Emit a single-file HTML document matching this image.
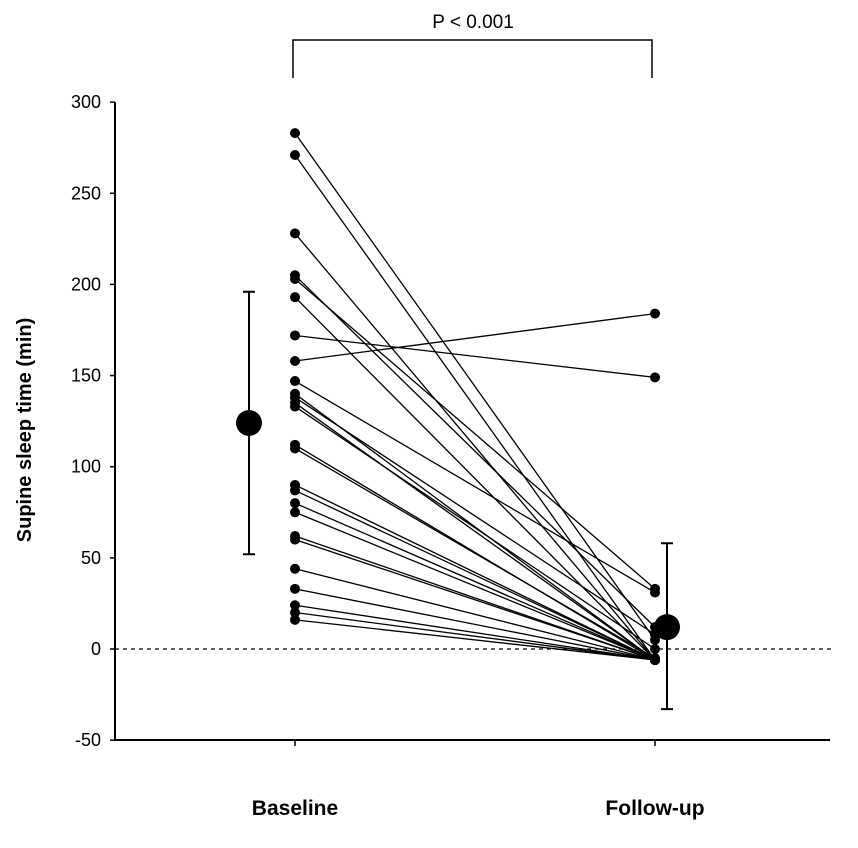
<!DOCTYPE html>
<html><head><meta charset="utf-8"><style>
body{margin:0;background:#fff}
svg{display:block;font-family:"Liberation Sans",Arial,sans-serif}
</style></head><body>
<svg id="chart" width="858" height="848" viewBox="0 0 858 848">
<g id="axes"></g><g id="marks"></g>
</svg>
<script>
const groups = ["Baseline", "Follow-up"];
const baselineValues = [283, 271, 228, 205, 203, 193, 172, 158, 147, 140, 138, 135, 133, 112, 110, 90, 87, 80, 75, 62, 60, 44, 33, 24, 20, 16];
const followupValues = [5, -6, -6, 12, 33, -6, 149, 184, 31, -6, 8, -6, 0, -6, -5, -6, -6, -6, -6, -6, -6, -6, -6, -6, -6, -6];
const meanValues = [124, 12];
const errLow = [52, -33];
const errHigh = [196, 58];
const yTicks = [-50, 0, 50, 100, 150, 200, 250, 300];

const NS = "http://www.w3.org/2000/svg";
const y = v => 649 - v * 1.8229;
const xPos = i => i === 0 ? 295 : 655;
const xMean = i => i === 0 ? 249 : 667;
function mk(tag, attrs, parent, text){
  const e = document.createElementNS(NS, tag);
  for (const k in attrs) e.setAttribute(k, attrs[k]);
  if (text !== undefined) e.textContent = text;
  parent.appendChild(e); return e;
}
const axes = document.getElementById("axes"), marks = document.getElementById("marks");

let e = mk("line", {x1:115, y1:102, x2:115, y2:741, stroke:"#000", "stroke-width":2}, axes);
 
e = mk("line", {x1:114, y1:740, x2:830, y2:740, stroke:"#000", "stroke-width":2}, axes);
 
e = mk("line", {x1:115, y1:y(0), x2:835, y2:y(0), stroke:"#000", "stroke-width":1.3, "stroke-dasharray":"4,4"}, axes);
 
yTicks.forEach(t => {
  const l = mk("line", {x1:110, y1:y(t), x2:115, y2:y(t), stroke:"#000", "stroke-width":1.5}, axes);
   
  const tx = mk("text", {x:101, y:y(t)+6, "text-anchor":"end", "font-size":18}, axes, String(t));
   
});
groups.forEach((g, i) => {
  const l = mk("line", {x1:xPos(i), y1:740, x2:xPos(i), y2:746, stroke:"#000", "stroke-width":1.5}, axes);
   
  const tx = mk("text", {x:xPos(i), y:815, "text-anchor":"middle", "font-size":21, "font-weight":"bold"}, axes, g);
   
});
e = mk("text", {transform:"translate(31,430) rotate(-90)", "text-anchor":"middle", "font-size":20, "font-weight":"bold"}, axes, "Supine sleep time (min)");
 
e = mk("path", {d:"M293 78 V40 H652 V78", fill:"none", stroke:"#000", "stroke-width":1.5}, axes);
 
e = mk("text", {x:473, y:28, "text-anchor":"middle", "font-size":19}, axes, "P < 0.001");
 

baselineValues.forEach((b, k) => {
  const f = followupValues[k];
  const l = mk("line", {x1:xPos(0), y1:y(b), x2:xPos(1), y2:y(f), stroke:"#000", "stroke-width":1.3}, marks);
   
  const c1 = mk("circle", {cx:xPos(0), cy:y(b), r:5, fill:"#000"}, marks);
   
  const c2 = mk("circle", {cx:xPos(1), cy:y(f), r:5, fill:"#000"}, marks);
   
});
meanValues.forEach((m, i) => {
  const x = xMean(i);
  const eb = mk("path", {d:`M${x} ${y(errHigh[i])} V${y(errLow[i])} M${x-6} ${y(errHigh[i])} H${x+6} M${x-6} ${y(errLow[i])} H${x+6}`, stroke:"#000", "stroke-width":2, fill:"none"}, marks);
   
  const c = mk("circle", {cx:x, cy:y(m), r:13, fill:"#000"}, marks);
   
});
</script>
</body></html>
